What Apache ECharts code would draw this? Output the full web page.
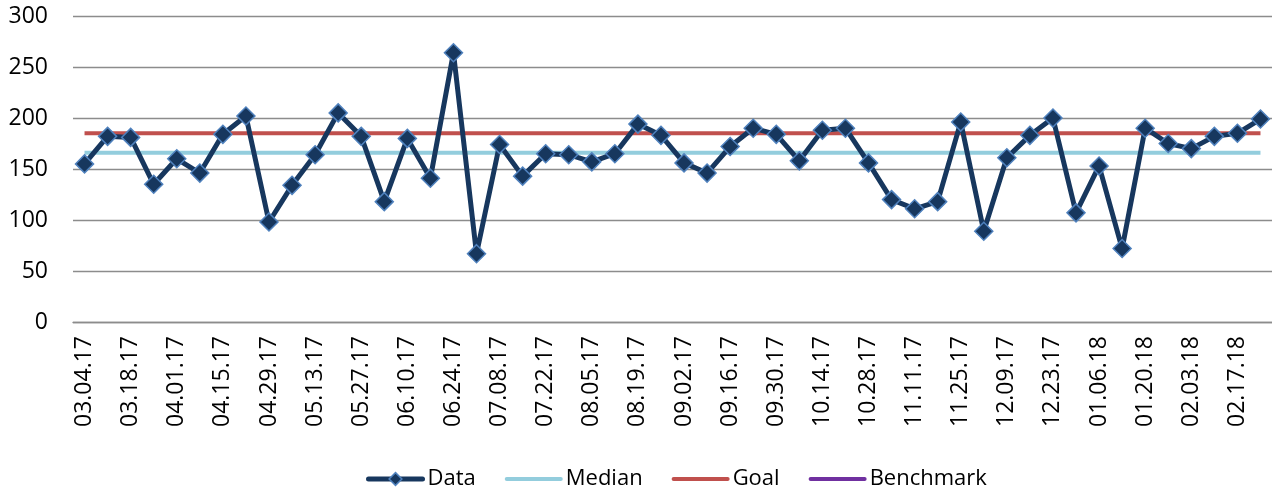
<!DOCTYPE html>
<html>
<head>
<meta charset="utf-8">
<script src="https://cdn.jsdelivr.net/npm/echarts@6/dist/echarts.min.js"></script>
<style>
html,body{margin:0;padding:0;background:#fff;}
#chart{width:1272px;height:489px;}
</style>
</head>
<body>
<div id="chart"></div>
<script>
const categories = [
  "03.04.17","03.11.17","03.18.17","03.25.17","04.01.17","04.08.17","04.15.17","04.22.17","04.29.17",
  "05.06.17","05.13.17","05.20.17","05.27.17","06.03.17","06.10.17","06.17.17","06.24.17","07.01.17",
  "07.08.17","07.15.17","07.22.17","07.29.17","08.05.17","08.12.17","08.19.17","08.26.17","09.02.17",
  "09.09.17","09.16.17","09.23.17","09.30.17","10.07.17","10.14.17","10.21.17","10.28.17","11.04.17",
  "11.11.17","11.18.17","11.25.17","12.02.17","12.09.17","12.16.17","12.23.17","12.30.17","01.06.18",
  "01.13.18","01.20.18","01.27.18","02.03.18","02.10.18","02.17.18","02.24.18"
];
const dataValues = [
  155, 182, 181, 135, 160, 146, 184, 202, 98, 134, 164, 205, 182, 118, 180, 141, 264, 67,
  174, 143, 165, 164, 157, 165, 194, 183, 156, 146, 172, 190, 184, 158, 188, 190,
  156, 120, 111, 118, 196, 89, 161, 183, 200, 107, 153, 72, 190, 175, 170, 182, 185, 199
];
const medianValue = 166;
const goalValue = 185;
const benchmarkValues = [];
const yTicks = { min: 0, max: 300, interval: 50 };

const medianValues = categories.map(() => medianValue);
const goalValues = categories.map(() => goalValue);

const FONT = "'Open Sans', 'Noto Sans', sans-serif";
const noSymbol = { color: 'rgba(0,0,0,0)', borderWidth: 0, borderColor: 'rgba(0,0,0,0)' };
const chart = echarts.init(document.getElementById('chart'), null, { renderer: 'canvas' });
chart.setOption({
  animation: false,
  backgroundColor: '#ffffff',
  textStyle: { fontFamily: FONT },
  grid: { left: 73, top: 16, width: 1200, height: 306, containLabel: false },
  legend: {
    left: 361, top: 461,
    itemWidth: 54, itemHeight: 16, itemGap: 29,
    textStyle: { fontFamily: FONT, fontSize: 22, color: '#000', lineHeight: 26 },
    lineStyle: { width: 5 },
    data: [
      { name: 'Data', itemStyle: { color: '#17375E', borderColor: '#4F81BD', borderWidth: 1.5 }, lineStyle: { width: 5, color: '#17375E', cap: 'round' } },
      { name: 'Median', itemStyle: noSymbol, lineStyle: { width: 4, color: '#93CDDD', cap: 'round' } },
      { name: 'Goal', itemStyle: noSymbol, lineStyle: { width: 4, color: '#C0504D', cap: 'round' } },
      { name: 'Benchmark', itemStyle: noSymbol, lineStyle: { width: 4, color: '#7030A0', cap: 'round' } }
    ]
  },
  xAxis: {
    type: 'category',
    data: categories,
    boundaryGap: true,
    axisLine: { show: true, lineStyle: { color: '#8c8c8c', width: 1.3 } },
    axisTick: { show: false },
    axisLabel: { interval: 1, rotate: 90, margin: 14, fontFamily: FONT, fontSize: 23, color: '#000' },
    splitLine: { show: false }
  },
  yAxis: {
    type: 'value',
    min: yTicks.min, max: yTicks.max, interval: yTicks.interval,
    axisLine: { show: false },
    axisTick: { show: false },
    axisLabel: { margin: 25, fontFamily: FONT, fontSize: 23, color: '#000' },
    splitLine: { show: true, lineStyle: { color: '#8c8c8c', width: 1.3 } }
  },
  series: [
    {
      name: 'Median', type: 'line', data: medianValues, symbol: 'none',
      lineStyle: { color: '#93CDDD', width: 4 }, itemStyle: { color: '#93CDDD' }, z: 2
    },
    {
      name: 'Goal', type: 'line', data: goalValues, symbol: 'none',
      lineStyle: { color: '#C0504D', width: 4 }, itemStyle: { color: '#C0504D' }, z: 2
    },
    {
      name: 'Benchmark', type: 'line', data: benchmarkValues, symbol: 'none',
      lineStyle: { color: '#7030A0', width: 4 }, itemStyle: { color: '#7030A0' }, z: 2
    },
    {
      name: 'Data', type: 'line', data: dataValues,
      symbol: 'diamond', symbolSize: 18, showAllSymbol: true,
      lineStyle: { color: '#17375E', width: 5 },
      itemStyle: { color: '#17375E', borderColor: '#4F81BD', borderWidth: 1.5 },
      z: 3
    }
  ]
});
</script>
</body>
</html>
